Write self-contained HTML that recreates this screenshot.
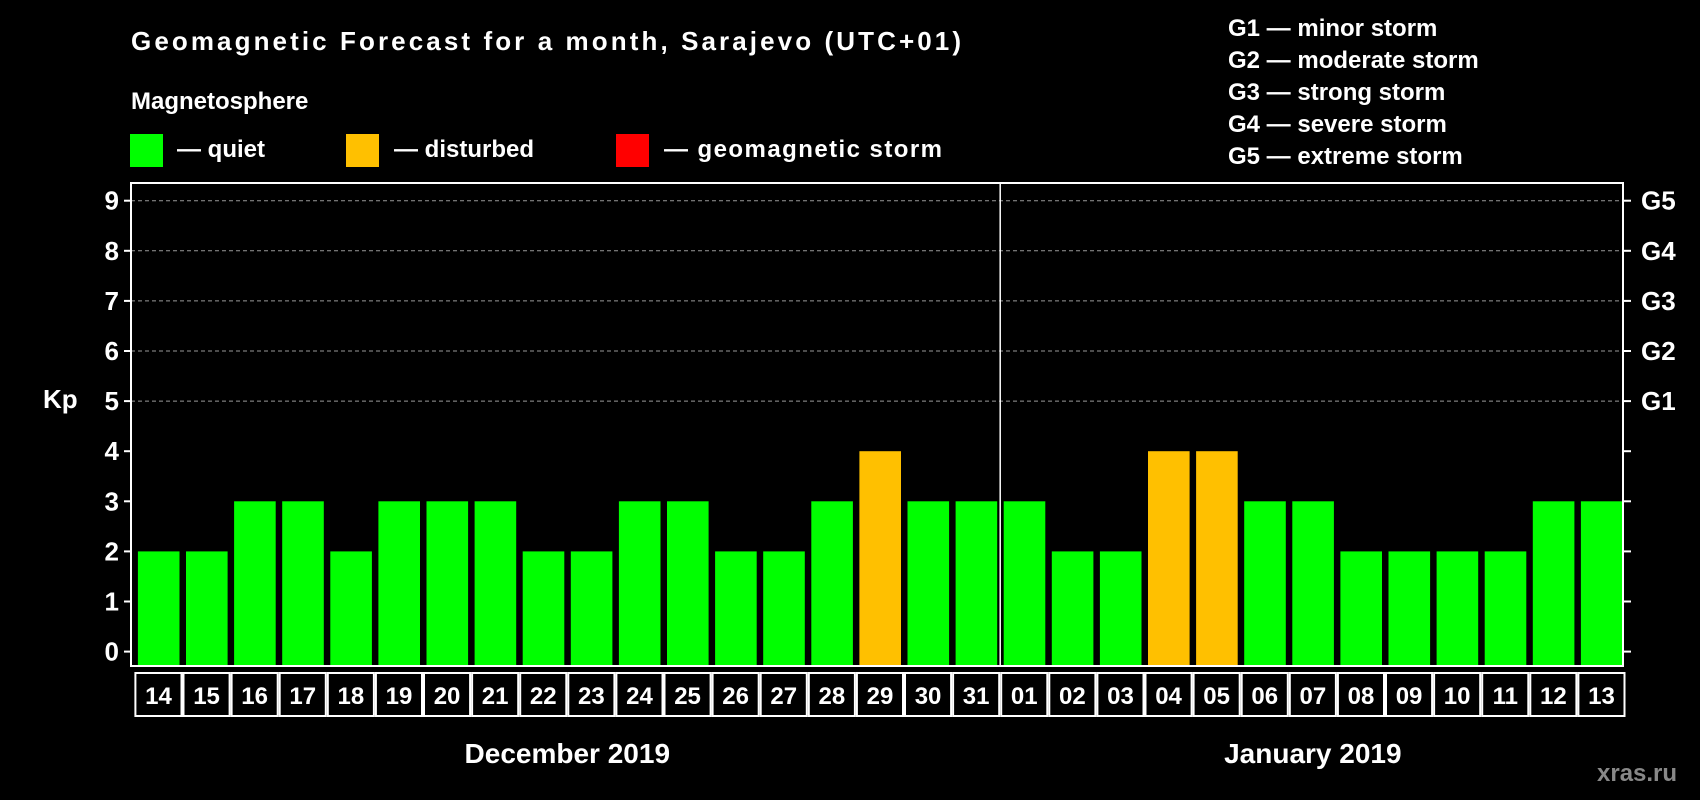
<!DOCTYPE html>
<html><head><meta charset="utf-8"><style>
html,body{margin:0;padding:0;background:#000;}
svg{display:block;font-family:"Liberation Sans",Arial,sans-serif;font-weight:bold;}
</style></head><body>
<svg id="chart" width="1700" height="800" viewBox="0 0 1700 800" xmlns="http://www.w3.org/2000/svg">
<text x="131" y="50" fill="#fff" font-size="26" textLength="830">Geomagnetic Forecast for a month, Sarajevo (UTC+01)</text>
<text x="131" y="109" fill="#fff" font-size="24">Magnetosphere</text>
<g><rect x="130" y="134" width="33" height="33" fill="#00ff00"/><text x="177" y="157" fill="#fff" font-size="24">— quiet</text></g>
<g><rect x="346" y="134" width="33" height="33" fill="#ffc000"/><text x="394" y="157" fill="#fff" font-size="24">— disturbed</text></g>
<g><rect x="616" y="134" width="33" height="33" fill="#ff0000"/><text x="664" y="157" fill="#fff" font-size="24" textLength="278">— geomagnetic storm</text></g>
<g fill="#fff" font-size="24">
<text x="1228" y="36">G1 — minor storm</text>
<text x="1228" y="68">G2 — moderate storm</text>
<text x="1228" y="100">G3 — strong storm</text>
<text x="1228" y="132">G4 — severe storm</text>
<text x="1228" y="164">G5 — extreme storm</text>
</g>
<text x="43" y="408" fill="#fff" font-size="26">Kp</text>
<text x="1597" y="781" fill="#888" font-size="24">xras.ru</text>
<g id="plot"></g>
</svg>
<script>
const days = ["14","15","16","17","18","19","20","21","22","23","24","25","26","27","28","29","30","31","01","02","03","04","05","06","07","08","09","10","11","12","13"];
const kpValues = [2,2,3,3,2,3,3,3,2,2,3,3,2,2,3,4,3,3,3,2,2,4,4,3,3,2,2,2,2,3,3];
const yTicks = [0,1,2,3,4,5,6,7,8,9];
const gLabels = ["G1","G2","G3","G4","G5"];
const months = ["December 2019","January 2019"];
const monthStartIdx = [0,18];

const NS="http://www.w3.org/2000/svg";
const g=document.getElementById('plot');
const L=131,R=1623,T=183,B=666,y0=651.6,unit=50.1,slot0=134.4,slotW=48.1;
const ys=v=>y0-v*unit;
const xs=i=>slot0+i*slotW;
function mk(tag,attrs,parent){const e=document.createElementNS(NS,tag);for(const k in attrs)e.setAttribute(k,attrs[k]);(parent||g).appendChild(e);return e;}
// gridlines and ticks
yTicks.forEach(v=>{
  const y=ys(v);
  if(v>=5){const gl=mk('line',{x1:L,x2:R,y1:y,y2:y,stroke:'#999','stroke-dasharray':'4,3','stroke-width':1});
  
  }
  mk('line',{x1:L-7,x2:L,y1:y,y2:y,stroke:'#fff','stroke-width':2});
  mk('line',{x1:R,x2:R+8,y1:y,y2:y,stroke:'#fff','stroke-width':2});
  const t=mk('text',{x:L-12,y:y+9,fill:'#fff','font-size':26,'text-anchor':'end'});t.textContent=v;
  
  
});
gLabels.forEach((lab,i)=>{
  const t=mk('text',{x:R+18,y:ys(5+i)+9,fill:'#fff','font-size':26});t.textContent=lab;
  
  
});
// bars
kpValues.forEach((v,i)=>{
  const col=v>=5?'#ff0000':(v>=4?'#ffc000':'#00ff00');
  const b=mk('rect',{x:xs(i)+3.5,y:ys(v),width:slotW-6.5,height:B-ys(v),fill:col});
  
  
  const box=mk('rect',{x:xs(i)+1,y:673,width:slotW-2,height:43,fill:'none',stroke:'#fff','stroke-width':2});
  
  
  const t=mk('text',{x:xs(i)+slotW/2,y:704,fill:'#fff','font-size':24,'text-anchor':'middle'});t.textContent=days[i];
  
  
});
// frame
const fr=mk('rect',{x:L,y:T,width:R-L,height:B-T,fill:'none',stroke:'#fff','stroke-width':2});


// month divider and labels
const dx=xs(monthStartIdx[1]);
const dv=mk('line',{x1:dx,x2:dx,y1:T,y2:B,stroke:'#fff','stroke-width':1.5});


months.forEach((m,i)=>{
  const s=monthStartIdx[i],e=(i+1<monthStartIdx.length?monthStartIdx[i+1]:days.length);
  const cx=(xs(s)+xs(e))/2;
  const t=mk('text',{x:cx,y:763,fill:'#fff','font-size':28,'text-anchor':'middle'});t.textContent=m;
  
  
});
</script>
</body></html>
